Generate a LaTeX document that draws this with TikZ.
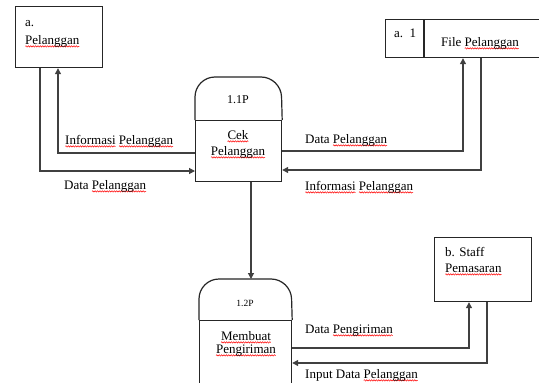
\documentclass[tikz,border=0pt]{standalone}
\usepackage{fontspec}
\setmainfont{Liberation Serif}
\newfontfamily\tms{Liberation Serif}
\usetikzlibrary{arrows.meta,decorations.pathmorphing}
\newcommand\sq[1]{\setbox0\hbox{#1}\rlap{\tikz[overlay,baseline=0pt,x=1pt,y=1pt]\draw[red,line width=0.5pt,decorate,decoration={snake,amplitude=0.7pt,segment length=2.4pt}] (0,-2.4) -- (\the\wd0,-2.4);}\box0\relax}
\begin{document}
\begin{tikzpicture}[x=1pt,y=-1pt,
  line/.style={draw=black!85,line width=1.2pt},
  flow/.style={draw=black!75,line width=1.2pt,-{Triangle[length=6pt,width=6pt]}},
  box/.style={draw=black!85,line width=1.2pt,inner sep=0pt,anchor=north west},
  txt/.style={font=\tms\fontsize{13}{16}\selectfont,inner sep=0pt,anchor=base west},
  ctxt/.style={font=\tms\fontsize{13}{16}\selectfont,inner sep=0pt,anchor=base},
  ]
\useasboundingbox[fill=white] (0,0) rectangle (539,383);
\clip (0,0) rectangle (539,383);

% external entity Pelanggan
\node[box,minimum width=87pt,minimum height=61pt] (pel) at (15,6) {};
\node[txt] (pela) at (25,26) {a.};
\node[txt] (pelb) at (25,44) {\sq{Pelanggan}};

% data store
\node[box,minimum width=165pt,minimum height=38pt] (store) at (385,19) {};
\coordinate (sd) at (424,0);
\draw[line] (store.north -| sd) -- (store.south -| sd);
\node[txt] (storea) at (394,37) {a.\ \ 1};
\node[txt] (storeb) at (441,46) {File \sq{Pelanggan}};

% process 1.1P
\node[box,minimum width=86pt,minimum height=61pt] (p1) at (195,120) {};
\draw[line,rounded corners=20pt] (p1.north west) -- ++(0,-43) -- ++(86,0) -- (p1.north east);
\node[font=\tms\fontsize{12}{14}\selectfont,inner sep=0pt] (p1id) at (238,100) {1.1P};
\node[ctxt] (p1a) at (238,139) {\sq{Cek}};
\node[ctxt] (p1b) at (238,155) {\sq{Pelanggan}};

% process 1.2P
\node[box,minimum width=92pt,minimum height=80pt] (p2) at (199,320) {};
\draw[line,rounded corners=20pt] (p2.north west) -- ++(0,-41) -- ++(92,0) -- (p2.north east);
\coordinate (p2cap) at (245,279);
\node[font=\tms\fontsize{9.5}{11}\selectfont,inner sep=0pt] (p2id) at (245,303) {1.2P};
\node[ctxt] (p2a) at (246,340) {\sq{Membuat}};
\node[ctxt] (p2b) at (246,353) {\sq{Pengiriman}};

% external entity Staff Pemasaran
\node[box,minimum width=97pt,minimum height=64pt] (staff) at (434,237) {};
\node[txt] (staffa) at (445,256) {b. Staff};
\node[txt] (staffb) at (445,272) {\sq{Pemasaran}};

% connectors
\coordinate (c1) at (58,153);
\coordinate (c2) at (40,171);
\coordinate (c3) at (463,151);
\coordinate (c4) at (481,170);
\coordinate (c5) at (251,0);
\coordinate (c6) at (469,348);
\coordinate (c7) at (487,363);
\draw[flow] (p1.west |- c1) -| (pel.south -| c1);
\draw[flow] (pel.south -| c2) |- (p1.west |- c2);
\draw[flow] (p1.east |- c3) -| (store.south -| c3);
\draw[flow] (store.south -| c4) |- (p1.east |- c4);
\draw[flow] (p1.south -| c5) -- (p2cap -| c5);
\draw[flow] (p2.east |- c6) -| (staff.south -| c6);
\draw[flow] (staff.south -| c7) |- (p2.east |- c7);

% labels
\node[txt] (l1) at (65,144) {\sq{Informasi} \sq{Pelanggan}};
\node[txt] (l2) at (64,189) {Data \sq{Pelanggan}};
\node[txt] (l3) at (305,143) {Data \sq{Pelanggan}};
\node[txt] (l4) at (305,190) {\sq{Informasi} \sq{Pelanggan}};
\node[txt] (l5) at (305,333) {Data \sq{Pengiriman}};
\node[txt] (l6) at (305,378) {Input Data \sq{Pelanggan}};
\end{tikzpicture}
\end{document}
